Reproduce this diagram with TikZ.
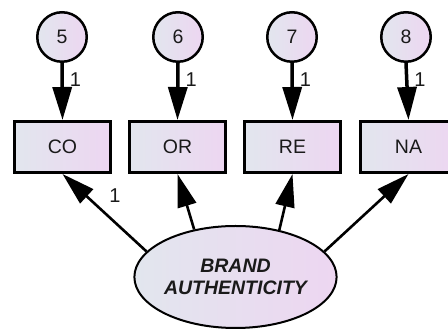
\documentclass[tikz,border=0pt]{standalone}
\usepackage{fontspec}
\setmainfont{Liberation Sans}
\usetikzlibrary{arrows.meta,shapes.geometric}
\definecolor{fillL}{HTML}{E2E6EE}
\definecolor{fillR}{HTML}{EDD6F1}
\definecolor{ink}{HTML}{1A1A1A}
\tikzset{
  shade/.style={left color=fillL, right color=fillR},
  errvar/.style={circle, draw=black, line width=2.5pt, shade, minimum size=49.5pt,
    inner sep=0pt, font=\fontsize{19.5}{22}\selectfont, text=ink},
  obsvar/.style={rectangle, draw=black, line width=3pt, shade, minimum width=96pt,
    minimum height=51pt, inner sep=0pt, font=\fontsize{19.5}{22}\selectfont, text=ink},
  latvar/.style={ellipse, draw=black, line width=2pt, shade, minimum width=198pt,
    minimum height=102pt, inner sep=0pt, align=center, text=ink,
    font=\fontsize{19.5}{21.5}\selectfont\bfseries\itshape},
  errpath/.style={line width=3.5pt, -{Triangle[length=33pt,width=19pt]}},
  loadpath/.style={line width=2.6pt, -{Triangle[length=33pt,width=19pt]}},
  wlabel/.style={font=\fontsize{20}{22}\selectfont, text=ink, inner sep=0pt}
}
\begin{document}
\begin{tikzpicture}[x=1pt,y=1pt]
\useasboundingbox (0,0) rectangle (448,329);

% error terms
\node[errvar] (e5) at (62,292) {5};
\node[errvar] (e6) at (178,292) {6};
\node[errvar] (e7) at (292,292) {7};
\node[errvar] (e8) at (406,292) {8};

% indicators
\node[obsvar] (co) at (62.5,182) {CO};
\node[obsvar] (or) at (177.5,182) {OR};
\node[obsvar] (re) at (292.5,182) {RE};
\node[obsvar] (na) at (408.5,182) {NA};

% latent construct
\node[latvar] (ba) at (235.5,52) {BRAND\\AUTHENTICITY};

% error paths
\foreach \e/\v in {e5/co,e6/or,e7/re,e8/na}{
  \draw[errpath] (\e.south) -- node[wlabel, pos=0.29, anchor=west, xshift=6pt] {1} (\v.north);
}

% loadings
\draw[loadpath] (ba.164.7) -- node[wlabel, pos=0.72, xshift=29pt] {1} (co.south);
\draw[loadpath] (ba.131.6) -- (or.south);
\draw[loadpath] (ba.47.8) -- (re.south);
\draw[loadpath] (ba.16) -- (na.south);
\end{tikzpicture}
\end{document}
